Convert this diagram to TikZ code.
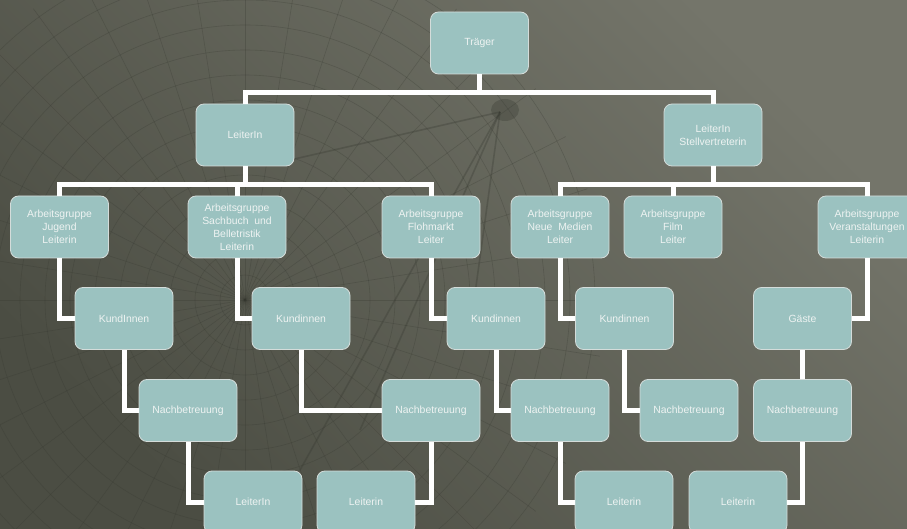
\documentclass[tikz,border=0pt]{standalone}
\usepackage{fontspec}
\setmainfont{Liberation Sans}
\definecolor{boxfill}{HTML}{9BC2C0}
\definecolor{boxline}{HTML}{D4DCDA}
\definecolor{txt}{HTML}{EEF3F2}
\definecolor{bgdark}{HTML}{4B4D43}
\definecolor{bglight}{HTML}{74756A}
\definecolor{gridc}{HTML}{34362E}
\begin{document}
\begin{tikzpicture}[x=1pt,y=-1pt,
  box/.style={draw=boxline, line width=0.8pt, fill=boxfill, rounded corners=8pt,
    minimum width=98pt, minimum height=62pt, inner sep=0pt, align=center,
    text=txt, font=\fontsize{10.4}{13}\selectfont},
  conn/.style={draw=white, line width=5pt, line join=miter},
  gridline/.style={draw=gridc, line width=0.6pt, opacity=0.28}]
\useasboundingbox (0,0) rectangle (907,529);
\clip (0,0) rectangle (907,529);
% background
\shade[bottom color=bgdark, top color=bglight, shading angle=-45] (0,0) rectangle (907,529);
% faint background texture
\begin{scope}
  \clip (245,300) circle (360);
  \foreach \r in {25,50,...,350} \draw[gridline] (245,300) circle (\r);
  \foreach \a in {0,9,...,351} \draw[gridline] (245,300) -- ++(\a:360);
\end{scope}
\begin{scope}[draw=gridc, opacity=0.3, line width=1.6pt]
  \draw (500,112) -- (290,160);
  \draw (500,112) -- (300,470);
  \draw (500,112) -- (360,430);
  \draw (500,112) -- (470,330);
\end{scope}
\fill[gridc, opacity=0.3] (505,110) ellipse (14 and 11);
% nodes
\node[box] (tr) at (479.5,43) {Träger};
\node[box] (l1) at (245,135) {LeiterIn};
\node[box] (l2) at (713,135) {LeiterIn\\Stellvertreterin};
\node[box] (a1) at (59.5,227) {Arbeitsgruppe\\Jugend\\Leiterin};
\node[box] (a2) at (237,227) {Arbeitsgruppe\\Sachbuch\ \ und\\Belletristik\\Leiterin};
\node[box] (a3) at (431,227) {Arbeitsgruppe\\Flohmarkt\\Leiter};
\node[box] (a4) at (560,227) {Arbeitsgruppe\\Neue\ \ Medien\\Leiter};
\node[box] (a5) at (673,227) {Arbeitsgruppe\\Film\\Leiter};
\node[box] (a6) at (867,227) {Arbeitsgruppe\\Veranstaltungen\\Leiterin};
\node[box] (k1) at (124,318.5) {KundInnen};
\node[box] (k2) at (301,318.5) {Kundinnen};
\node[box] (k3) at (496,318.5) {Kundinnen};
\node[box] (k4) at (624.5,318.5) {Kundinnen};
\node[box] (g)  at (802.5,318.5) {Gäste};
\node[box] (n1) at (188,410.5) {Nachbetreuung};
\node[box] (n2) at (431,410.5) {Nachbetreuung};
\node[box] (n3) at (560,410.5) {Nachbetreuung};
\node[box] (n4) at (689,410.5) {Nachbetreuung};
\node[box] (n5) at (802.5,410.5) {Nachbetreuung};
\node[box] (e1) at (253,502) {LeiterIn};
\node[box] (e2) at (366,502) {Leiterin};
\node[box] (e3) at (624,502) {Leiterin};
\node[box] (e4) at (738,502) {Leiterin};
% connectors
\draw[conn] (tr.south) -- ++(0,18) -| (l1.north);
\draw[conn] (tr.south) ++(0,18) -| (l2.north);
\draw[conn] (l1.south) -- ++(0,18) -| (a1.north);
\draw[conn] (l1.south) ++(0,18) -| (a2.north);
\draw[conn] (l1.south) ++(0,18) -| (a3.north);
\draw[conn] (l2.south) -- ++(0,18) -| (a4.north);
\draw[conn] (l2.south) ++(0,18) -| (a5.north);
\draw[conn] (l2.south) ++(0,18) -| (a6.north);
\draw[conn] (a1.south) |- (k1.west);
\draw[conn] (a2.south) |- (k2.west);
\draw[conn] (a3.south) |- (k3.west);
\draw[conn] (a4.south) |- (k4.west);
\draw[conn] (a6.south) |- (g.east);
\draw[conn] (k1.south) |- (n1.west);
\draw[conn] (k2.south) |- (n2.west);
\draw[conn] (k3.south) |- (n3.west);
\draw[conn] (k4.south) |- (n4.west);
\draw[conn] (g.south) -- (n5.north);
\draw[conn] (n1.south) |- (e1.west);
\draw[conn] (n2.south) |- (e2.east);
\draw[conn] (n3.south) |- (e3.west);
\draw[conn] (n5.south) |- (e4.east);
\end{tikzpicture}
\end{document}
